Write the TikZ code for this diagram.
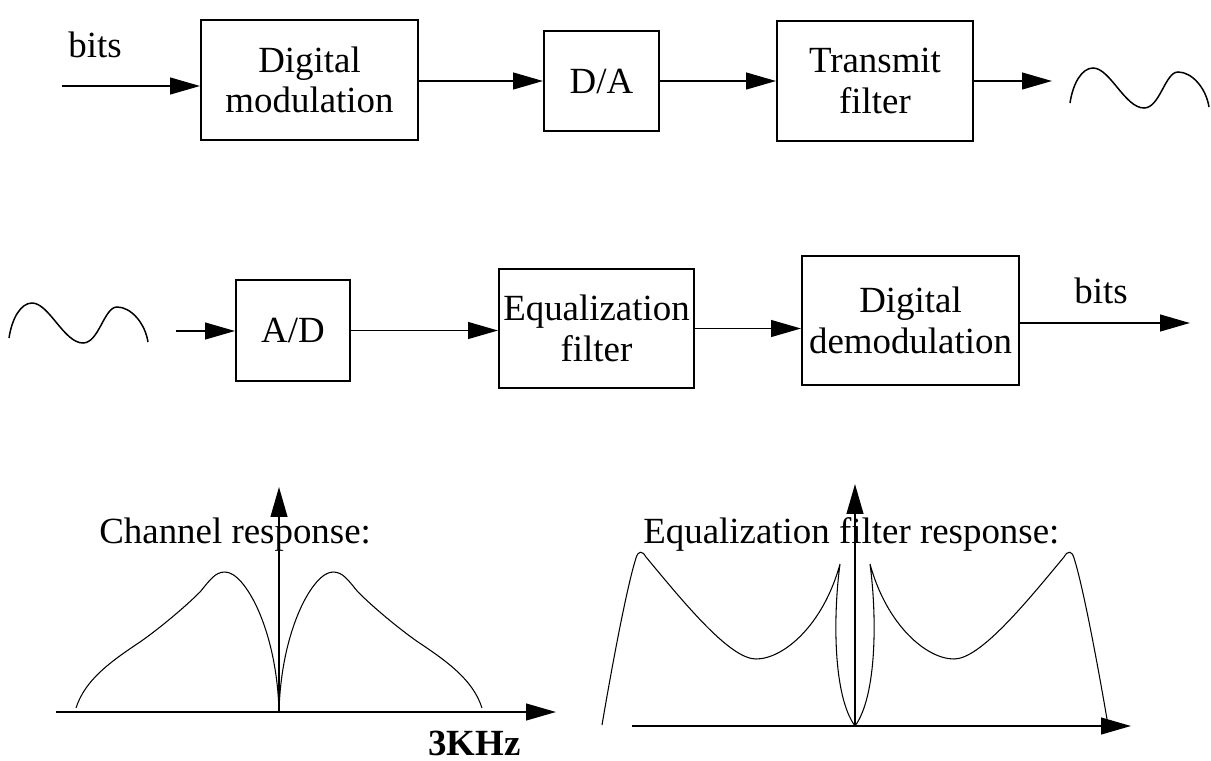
\documentclass[tikz,border=0pt]{standalone}
\usepackage{fontspec}
\setmainfont{Liberation Serif}
\usetikzlibrary{arrows.meta}
\tikzset{
  blk/.style={draw,line width=1.1pt,inner sep=0pt,align=center,font=\fontsize{21}{23}\selectfont},
  lbl/.style={inner sep=0pt,font=\fontsize{21}{23}\selectfont},
  arr/.style={line width=1.1pt,-{Triangle[length=17pt,width=9.5pt]}},
  resp/.style={line width=0.6pt},
  sig/.style={line width=0.85pt}
}

\begin{document}
\begin{tikzpicture}[x=0.02cm,y=-0.02cm]
\useasboundingbox (0,0) rectangle (1211,761);
% transmitter
\node[blk,minimum width=4.34cm,minimum height=2.4cm] (dmod) at (309.5,80) {Digital\\modulation};
\node[blk,minimum width=2.3cm,minimum height=2cm] (da) at (601.5,81) {D/A};
\node[blk,minimum width=3.92cm,minimum height=2.4cm] (tf) at (875,81) {Transmit\\filter};
\node[lbl,anchor=base west] (bitsin) at (68,57) {bits};
\coordinate (txin) at (62,86);
\coordinate (txout) at (1052,81);
\draw[arr] (txin) -- (txin -| dmod.west);
\draw[arr] (da.west -| dmod.east) -- (da.west);
\draw[arr] (da.east) -- (da.east -| tf.west);
\draw[arr] (tf.east) -- (txout);
\draw[sig,shift={(1070,103)}] (0,0) .. controls (3,-20) and (12,-35) .. (23,-35) .. controls (40,-35) and (55,5) .. (74,5) .. controls (90,5) and (95,-31) .. (108,-31) .. controls (122,-31) and (136,-15) .. (139,4);
% receiver
\node[blk,minimum width=2.28cm,minimum height=2.02cm] (ad) at (293,330.5) {A/D};
\node[blk,minimum width=3.9cm,minimum height=2.38cm] (eq) at (596.5,328.5) {Equalization\\filter};
\node[blk,minimum width=4.34cm,minimum height=2.58cm] (dd) at (910.5,320.5) {Digital\\demodulation};
\node[lbl,anchor=base west] (bitsout) at (1074,303) {bits};
\coordinate (rxin) at (176,331);
\coordinate (rxout) at (1190,323);
\draw[sig,shift={(9,338)}] (0,0) .. controls (3,-20) and (12,-35) .. (23,-35) .. controls (40,-35) and (55,5) .. (74,5) .. controls (90,5) and (95,-31) .. (108,-31) .. controls (122,-31) and (136,-15) .. (139,4);
\draw[arr] (rxin) -- (rxin -| ad.west);
\draw[arr] (ad.east) -- (ad.east -| eq.west);
\draw[arr] (eq.east) -- (eq.east -| dd.west);
\draw[arr] (rxout -| dd.east) -- (rxout);
% channel response
\coordinate (cho) at (279,712);
\coordinate (chx0) at (56,712);
\coordinate (chx1) at (556,712);
\coordinate (chy1) at (279,487);
\node[lbl,anchor=base west] (chlbl) at (99,543) {Channel response:};
\node[lbl,anchor=base west,font=\fontsize{21}{23}\selectfont\bfseries] (khz) at (428,755) {3KHz};
\draw[arr] (chx0) -- (chx1);
\draw[arr] (cho) -- (chy1);
\foreach \s in {1,-1}{
  \draw[resp,shift={(cho)},xscale=\s] (-203,-4) .. controls (-194,-32) and (-169,-50) .. (-139,-70) .. controls (-119,-84) and (-94,-105) .. (-79,-120) .. controls (-69,-132) and (-64,-140) .. (-54,-140) .. controls (-34,-140) and (-2,-82) .. (0,0);
}
% equalizer response
\coordinate (eqo) at (855,726);
\coordinate (eqx0) at (632,726);
\coordinate (eqx1) at (1131,726);
\coordinate (eqy1) at (855,484);
\node[lbl,anchor=base west] (eqlbl) at (643,543) {Equalization filter response:};
\draw[arr] (eqx0) -- (eqx1);
\draw[arr] (eqo) -- (eqy1);
\foreach \s in {1,-1}{
  \draw[resp,shift={(eqo)},xscale=\s] (-253,-1) .. controls (-243,-60) and (-228,-140) .. (-219,-168) .. controls (-217,-175) and (-213,-176) .. (-209,-169) .. controls (-170,-122) and (-125,-67) .. (-99,-67) .. controls (-72,-67) and (-32,-100) .. (-15,-162) .. controls (-22,-110) and (-22,-30) .. (0,0);
}
\end{tikzpicture}
\end{document}
